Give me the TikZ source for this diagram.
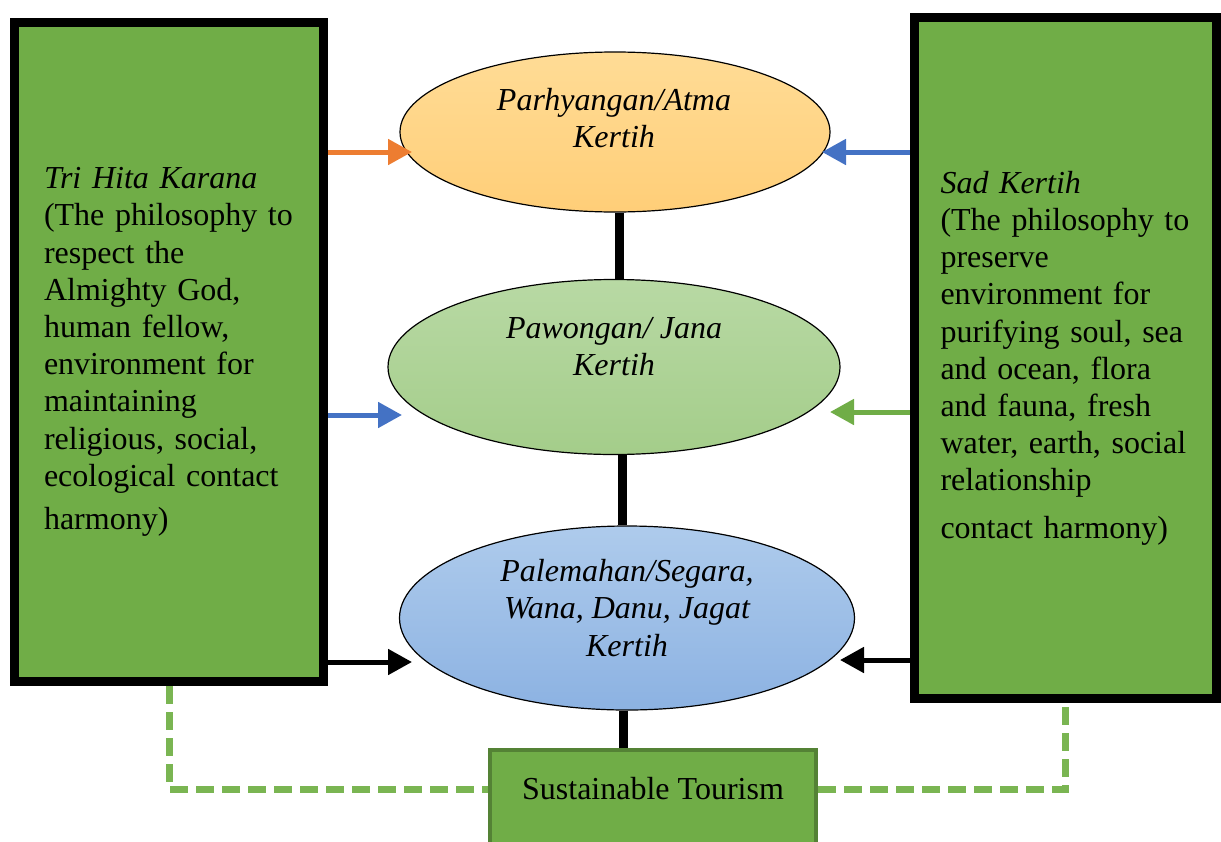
\documentclass[tikz,border=0pt]{standalone}
\usepackage{fontspec}
\setmainfont{Liberation Serif}
\usetikzlibrary{shapes.geometric,arrows.meta,positioning,calc}

\definecolor{boxgreen}{HTML}{70AD47}
\definecolor{darkgreen}{HTML}{548235}
\definecolor{dashgreen}{HTML}{7AB552}
\definecolor{arrorange}{HTML}{ED7D31}
\definecolor{arrblue}{HTML}{4472C4}
\definecolor{atmatop}{HTML}{FFDC96}
\definecolor{atmabot}{HTML}{FFCE78}
\definecolor{janatop}{HTML}{B8D9A4}
\definecolor{janabot}{HTML}{A4CD8A}
\definecolor{jagattop}{HTML}{AECBEC}
\definecolor{jagatbot}{HTML}{8CB2E2}

\begin{document}
\begin{tikzpicture}[x=0.5pt, y=-0.5pt,
    font=\fontsize{16}{18.6}\selectfont,
    sidebox/.style={draw, line width=4.5pt, fill=boxgreen, align=left, text width=125pt, inner sep=0pt},
    ellnode/.style={draw, ellipse, line width=0.6pt, inner sep=0pt},
    elltext/.style={align=center, font=\fontsize{16}{18.6}\selectfont\itshape},
    link/.style={line width=4.5pt},
    flow/.style={line width=2.5pt, -{Triangle[length=12pt, width=12.5pt]}},
    dashlink/.style={dashgreen, line width=3.5pt, dash pattern=on 9pt off 4pt},
    tourbox/.style={draw=darkgreen, line width=2pt, fill=boxgreen, minimum width=163pt, inner ysep=10pt, text height=14.5pt, text depth=30pt}
]
\clip (0,0) rectangle (1221,841);

% Side boxes
\node[sidebox, minimum width=154.5pt, minimum height=329.5pt] (lbox) at (169,352)
  {\textit{Tri Hita Karana}\\(The philosophy to\\respect the\\Almighty God,\\human fellow,\\environment for\\maintaining\\religious, social,\\ecological contact\\[3pt]harmony)};
\node[sidebox, minimum width=151pt, minimum height=340.5pt] (rbox) at (1065.5,358)
  {\textit{Sad Kertih}\\(The philosophy to\\preserve\\environment for\\purifying soul, sea\\and ocean, flora\\and fauna, fresh\\water, earth, social\\relationship\\[5pt]contact harmony)};

% Ellipses
\node[ellnode, top color=atmatop, bottom color=atmabot, minimum width=215pt, minimum height=80pt] (parh) at (615,132) {};
\node[ellnode, top color=janatop, bottom color=janabot, minimum width=226pt, minimum height=87.5pt] (pawo) at (614,367) {};
\node[ellnode, top color=jagattop, bottom color=jagatbot, minimum width=227.5pt, minimum height=92pt] (pale) at (627,618) {};
\node[elltext] (parhtext) at (614,118) {Parhyangan/Atma\\Kertih};
\node[elltext] (pawotext) at (614,347) {Pawongan/ Jana\\Kertih};
\node[elltext] (paletext) at (627,608) {Palemahan/Segara,\\Wana, Danu, Jagat\\Kertih};

% Sustainable tourism
\node[tourbox, anchor=north] (tour) at (653,748) {Sustainable Tourism};

% Links
\draw[link] ([xshift=2pt]parh.south) -- ([xshift=2pt]parh.south |- pawo.north);
\draw[link] ([xshift=4pt]pawo.south) -- ([xshift=4pt]pawo.south |- pale.north);
\draw[link] ([xshift=-2pt]pale.south) -- ([xshift=-2pt]pale.south |- tour.north);

% Arrows
\coordinate (tipa) at (412,152);
\coordinate (tipb) at (822,152);
\coordinate (tipc) at (402,415);
\coordinate (tipd) at (830,412);
\coordinate (tipe) at (412,662);
\coordinate (tipf) at (840,660);
\draw[flow, arrorange] (lbox.east |- tipa) -- (tipa);
\draw[flow, arrblue] (rbox.west |- tipb) -- (tipb);
\draw[flow, arrblue] (lbox.east |- tipc) -- (tipc);
\draw[flow, boxgreen] (rbox.west |- tipd) -- (tipd);
\draw[flow, black] (lbox.east |- tipe) -- (tipe);
\draw[flow, black] (rbox.west |- tipf) -- (tipf);

% Dashed links
\draw[dashlink] (lbox.south) |- ([yshift=5pt]tour.base west);
\draw[dashlink] ([yshift=5pt]tour.base east) -| (rbox.south);

\end{tikzpicture}
\end{document}
